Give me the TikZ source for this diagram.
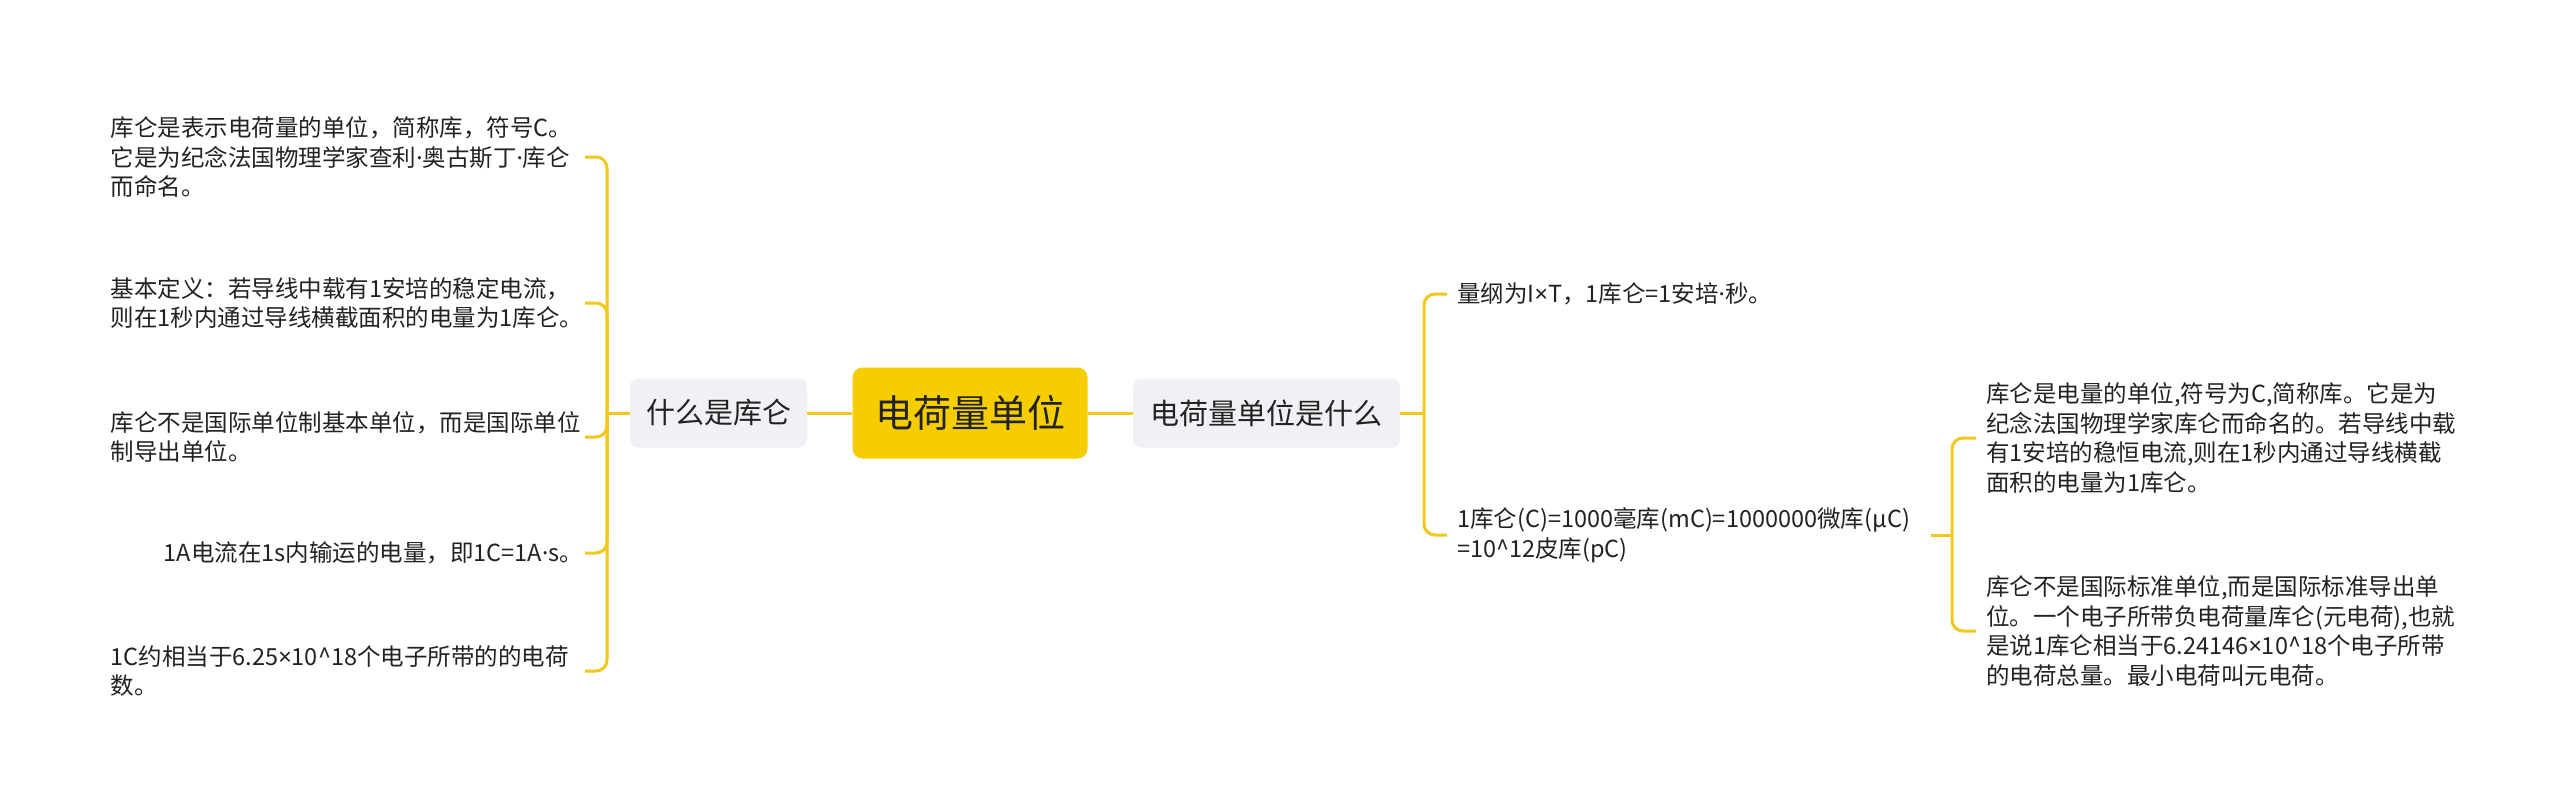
\documentclass[tikz,border=0pt]{standalone}
\usepackage{fontspec}
\newfontfamily\cjk{Noto Sans CJK SC}
\newfontfamily\latinf{Noto Sans}
\newcommand\mydot{{\latinf ·}}
\newcommand\mytimes{{\latinf ×}}
\definecolor{rootyellow}{HTML}{F6CE00}
\definecolor{linkyellow}{HTML}{F2C81C}
\definecolor{midgray}{HTML}{EFF1F4}
\definecolor{inkc}{HTML}{222222}
\tikzset{
  rootbox/.style={fill=rootyellow, rounded corners=10pt, minimum width=235pt, minimum height=91pt, inner sep=0pt, text=inkc, font=\cjk\fontsize{38}{46}\selectfont},
  midbox/.style={fill=midgray, rounded corners=8pt, minimum height=69pt, inner sep=0pt, text=inkc, font=\cjk\fontsize{29}{35}\selectfont},
  leafbox/.style={text width=464pt, align=left, inner xsep=10pt, inner ysep=3pt, text=inkc, font=\cjk\fontsize{23.5}{29.5}\selectfont},
  conn/.style={draw=linkyellow, line width=3pt},
  branch/.style={conn, rounded corners=11pt}
}
\begin{document}
\begin{tikzpicture}[x=1pt,y=-1pt]
\useasboundingbox[fill=white] (0,0) rectangle (2560,811);

% main nodes
\node[rootbox] (root) at (970,413) {电荷量单位};
\node[midbox, minimum width=177pt] (what) at (718.5,413) {什么是库仑};
\node[midbox, minimum width=267pt] (unit) at (1266.5,413) {电荷量单位是什么};

% junctions
\coordinate (jl) at (607,413);
\coordinate (jr) at (1424,413);
\coordinate (jr2) at (1952,535);

% left leaves
\node[leafbox, anchor=east] (l1) at (585,157) {库仑是表示电荷量的单位，简称库，符号C。\\它是为纪念法国物理学家查利\mydot 奥古斯丁\mydot 库仑\\而命名。};
\node[leafbox, anchor=east] (l2) at (585,303) {基本定义：若导线中载有1安培的稳定电流，\\则在1秒内通过导线横截面积的电量为1库仑。};
\node[leafbox, anchor=east] (l3) at (585,437) {库仑不是国际单位制基本单位，而是国际单位\\制导出单位。};
\node[leafbox, anchor=east] (l4) at (585,553) {\hspace*{53pt}1A电流在1s内输运的电量，即1C=1A\mydot s。};
\node[leafbox, anchor=east] (l5) at (585,671) {1C约相当于6.25\mytimes 10\^{}18个电子所带的的电荷\\数。};

% right leaves
\node[leafbox, anchor=west] (r1) at (1447,294) {量纲为I\mytimes T，1库仑=1安培\mydot 秒。};
\node[leafbox, anchor=west] (r2) at (1447,535) {1库仑(C)=1000毫库(mC)=1000000微库(μC)\\=10\^{}12皮库(pC)};
\node[leafbox, anchor=west] (r2a) at (1976,438) {库仑是电量的单位,符号为C,简称库。它是为\\纪念法国物理学家库仑而命名的。若导线中载\\有1安培的稳恒电流,则在1秒内通过导线横截\\面积的电量为1库仑。};
\node[leafbox, anchor=west] (r2b) at (1976,631) {库仑不是国际标准单位,而是国际标准导出单\\位。一个电子所带负电荷量库仑(元电荷),也就\\是说1库仑相当于6.24146\mytimes 10\^{}18个电子所带\\的电荷总量。最小电荷叫元电荷。};

% connectors
\draw[conn] (what.east) -- (root.west);
\draw[conn] (root.east) -- (unit.west);
\draw[conn] (what.west) -- (jl);
\draw[conn] (unit.east) -- (jr);
\draw[conn] (r2.east) -- (jr2);
\foreach \leaf in {l1,l2,l3,l4,l5} \draw[branch] (jl) |- (\leaf.east);
\foreach \leaf in {r1,r2} \draw[branch] (jr) |- (\leaf.west);
\foreach \leaf in {r2a,r2b} \draw[branch] (jr2) |- (\leaf.west);
\end{tikzpicture}
\end{document}
